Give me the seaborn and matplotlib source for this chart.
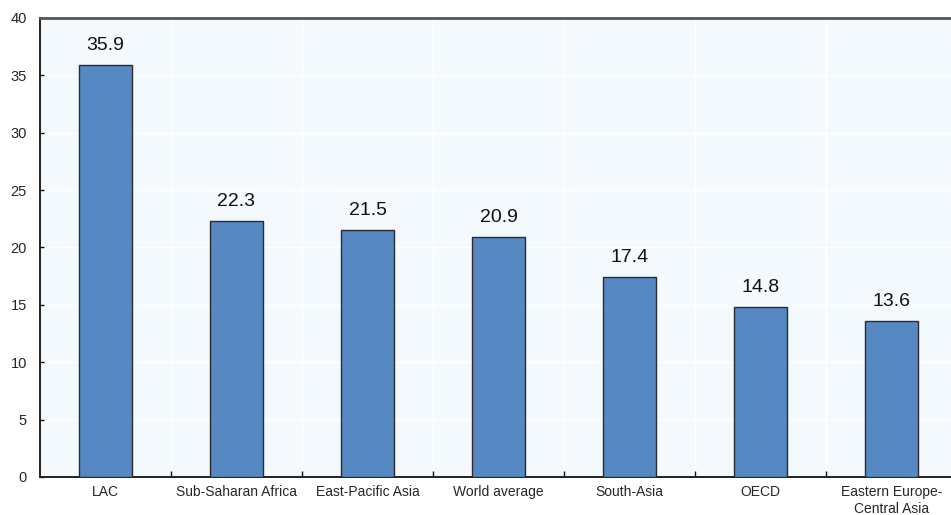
import matplotlib
matplotlib.use("Agg")
import matplotlib.pyplot as plt
import seaborn as sns
import numpy as np

regions = ["LAC", "Sub-Saharan Africa", "East-Pacific Asia", "World average",
           "South-Asia", "OECD", "Eastern Europe-\nCentral Asia"]
values = [35.9, 22.3, 21.5, 20.9, 17.4, 14.8, 13.6]
y_ticks = [0, 5, 10, 15, 20, 25, 30, 35, 40]

sns.set_theme(style="white")
plt.rcParams["font.family"] = ["Liberation Sans", "DejaVu Sans"]

fig = plt.figure(figsize=(9.51, 5.15), dpi=100)
ax = fig.add_axes([40 / 951, 38 / 515, 917 / 951, 459 / 515])
ax.set_facecolor("#f3f9fc")

sns.barplot(x=regions, y=values, color="#5689c4", saturation=1, width=0.4,
            edgecolor="#2b2b2b", linewidth=1.0, ax=ax, zorder=3)

for cont in ax.containers:
    ax.bar_label(cont, labels=[f"{v:.1f}" for v in values], padding=8,
                 fontsize=14, color="#111111")

ax.set_ylim(0, 40)
ax.set_xlim(-0.5, len(regions) - 0.5)
ax.set_yticks(y_ticks)
ax.set_xticks(np.arange(len(regions)))
ax.set_xticklabels(regions)
ax.set_xticks(np.arange(0.5, len(regions) - 0.5, 1), minor=True)
ax.set_xlabel("")
ax.set_ylabel("")

ax.grid(axis="y", color="white", linewidth=1.0, zorder=0)
ax.grid(axis="x", which="minor", color="white", linewidth=1.0, zorder=0)
ax.set_axisbelow(True)

ax.tick_params(axis="y", direction="in", length=3, width=1, color="#111111",
               labelsize=10.5, pad=9.5, left=True)
ax.tick_params(axis="x", which="major", length=0, labelsize=10, pad=6)
ax.tick_params(axis="x", which="minor", direction="in", length=4, width=1,
               color="#111111", bottom=True)

for side in ["left", "bottom", "top"]:
    ax.spines[side].set_visible(True)
    ax.spines[side].set_color("#222222")
    ax.spines[side].set_linewidth(1.4)
ax.spines["top"].set_color("#555555")
ax.spines["top"].set_linewidth(2)
ax.spines["right"].set_visible(False)

fig.savefig("out.png", dpi=100)
